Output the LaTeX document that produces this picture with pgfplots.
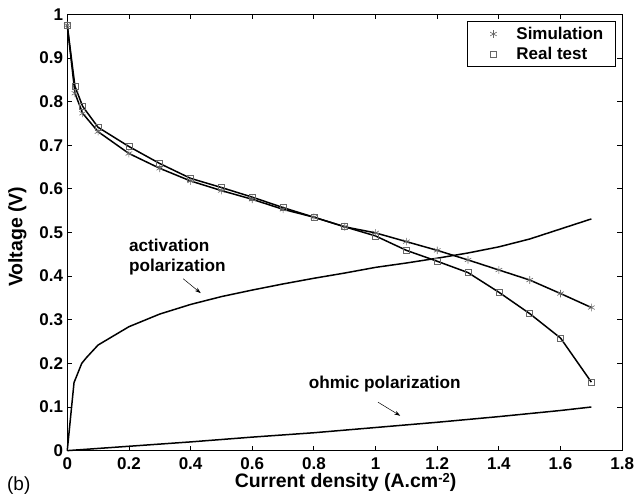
\documentclass[border=0pt]{standalone}
\usepackage{fontspec}
\setmainfont{Liberation Sans}
\usepackage{pgfplots}
\pgfplotsset{compat=1.18}
\usetikzlibrary{arrows.meta}
\begin{document}
\begin{tikzpicture}
\begin{axis}[
  scale only axis, width=555.4pt, height=436.7pt,
  xmin=0, xmax=1.8, ymin=0, ymax=1,
  xtick={0,0.2,0.4,0.6,0.8,1,1.2,1.4,1.6,1.8},
  ytick={0,0.1,0.2,0.3,0.4,0.5,0.6,0.7,0.8,0.9,1},
  tick align=inside, xtick pos=both, ytick pos=both,
  major tick length=5pt,
  tick style={black, line width=0.8pt},
  axis line style={black, line width=0.9pt},
  /pgf/number format/assume math mode=true,
  ticklabel style={font=\bfseries\fontsize{17}{17}\selectfont, inner sep=0pt},
  xticklabel style={yshift=-6.8pt},
  yticklabel style={xshift=-4pt},
  xlabel={Current density (A.cm\raisebox{5.5pt}{\fontsize{13}{13}\selectfont -2})},
  ylabel={Voltage (V)},
  label style={font=\bfseries\fontsize{19.5}{19.5}\selectfont, inner sep=0pt},
  xlabel style={at={(axis description cs:0.5015,-0.0845)}, anchor=base},
  ylabel style={at={(axis description cs:-0.081,0.49)}, anchor=base, rotate=0},
  clip=false,
  legend cell align=left,
  legend style={at={(rel axis cs:0.988,0.985)}, anchor=north east, draw=black, line width=0.6pt, fill=white,
    font=\bfseries\fontsize{17}{17}\selectfont, inner xsep=10pt, inner ysep=4pt, row sep=2pt},
  legend image code/.code={\path[draw=none, fill=none] (-16pt,0pt) -- (21pt,0pt); \draw[#1] plot coordinates {(0pt,0pt)};},
]
% lines
\addplot[black, line width=1.5pt, forget plot] coordinates {
(0,0.975) (0.025,0.819) (0.05,0.773) (0.1,0.731) (0.2,0.681) (0.3,0.647) (0.4,0.618) (0.5,0.596) (0.6,0.576) (0.7,0.553) (0.8,0.535) (0.9,0.513) (1.0,0.499) (1.1,0.479) (1.2,0.459) (1.3,0.437) (1.4,0.414) (1.5,0.391) (1.6,0.360) (1.7,0.328)};
\addplot[black, line width=1.5pt, forget plot] coordinates {
(0,0.975) (0.025,0.835) (0.05,0.789) (0.1,0.741) (0.2,0.697) (0.3,0.658) (0.4,0.624) (0.5,0.603) (0.6,0.581) (0.7,0.557) (0.8,0.535) (0.9,0.513) (1.0,0.492) (1.1,0.459) (1.2,0.434) (1.3,0.408) (1.4,0.363) (1.5,0.314) (1.6,0.258) (1.7,0.157)};
% activation polarization
\addplot[black, line width=1.5pt, forget plot] coordinates {
(0,0) (0.022,0.156) (0.047,0.200) (0.062,0.213) (0.1,0.242) (0.2,0.284) (0.3,0.313) (0.4,0.335) (0.5,0.353) (0.6,0.368) (0.7,0.382) (0.8,0.395) (0.9,0.407) (1.0,0.420) (1.1,0.430) (1.2,0.441) (1.3,0.453) (1.4,0.467) (1.5,0.485) (1.6,0.508) (1.7,0.531)};
% ohmic polarization
\addplot[black, line width=1.5pt, forget plot] coordinates {
(0,0) (0.2,0.010) (0.4,0.020) (0.6,0.031) (0.8,0.041) (1.0,0.053) (1.2,0.065) (1.4,0.078) (1.6,0.092) (1.7,0.100)};
% markers
\addplot[only marks, mark=asterisk, mark size=3.8pt, black!60, mark options={line width=0.6pt}] coordinates {
(0,0.975) (0.025,0.819) (0.05,0.773) (0.1,0.731) (0.2,0.681) (0.3,0.647) (0.4,0.618) (0.5,0.596) (0.6,0.576) (0.7,0.553) (0.8,0.535) (0.9,0.513) (1.0,0.499) (1.1,0.479) (1.2,0.459) (1.3,0.437) (1.4,0.414) (1.5,0.391) (1.6,0.360) (1.7,0.328)};
\addlegendentry{Simulation}
\addplot[only marks, mark=square, mark size=3pt, black!60, mark options={line width=0.6pt}] coordinates {
(0,0.975) (0.025,0.835) (0.05,0.789) (0.1,0.741) (0.2,0.697) (0.3,0.658) (0.4,0.624) (0.5,0.603) (0.6,0.581) (0.7,0.557) (0.8,0.535) (0.9,0.513) (1.0,0.492) (1.1,0.459) (1.2,0.434) (1.3,0.408) (1.4,0.363) (1.5,0.314) (1.6,0.258) (1.7,0.157)};
\addlegendentry{Real test}
% annotations
\node[anchor=base west, font=\bfseries\fontsize{17.2}{17.2}\selectfont, inner sep=0pt] at (axis cs:0.2,0.456) {activation};
\node[anchor=base west, font=\bfseries\fontsize{17.2}{17.2}\selectfont, inner sep=0pt] at (axis cs:0.2,0.410) {polarization};
\draw[-{Stealth[length=6pt,width=4pt]}, line width=0.5pt] (axis cs:0.376,0.394) -- (axis cs:0.433,0.361);
\node[anchor=base west, font=\bfseries\fontsize{17.2}{17.2}\selectfont, inner sep=0pt] at (axis cs:0.783,0.143) {ohmic polarization};
\draw[-{Stealth[length=6pt,width=4pt]}, line width=0.5pt] (axis cs:1.008,0.111) -- (axis cs:1.080,0.080);
\node[anchor=base west, font=\fontsize{19}{19}\selectfont, inner sep=0pt] at (axis description cs:-0.1086,-0.0916) {(b)};
\end{axis}
\path ([shift={(-67.3pt,-52pt)}]current axis.south west) rectangle ([shift={(11.8pt,14.3pt)}]current axis.north east);
\end{tikzpicture}
\end{document}
